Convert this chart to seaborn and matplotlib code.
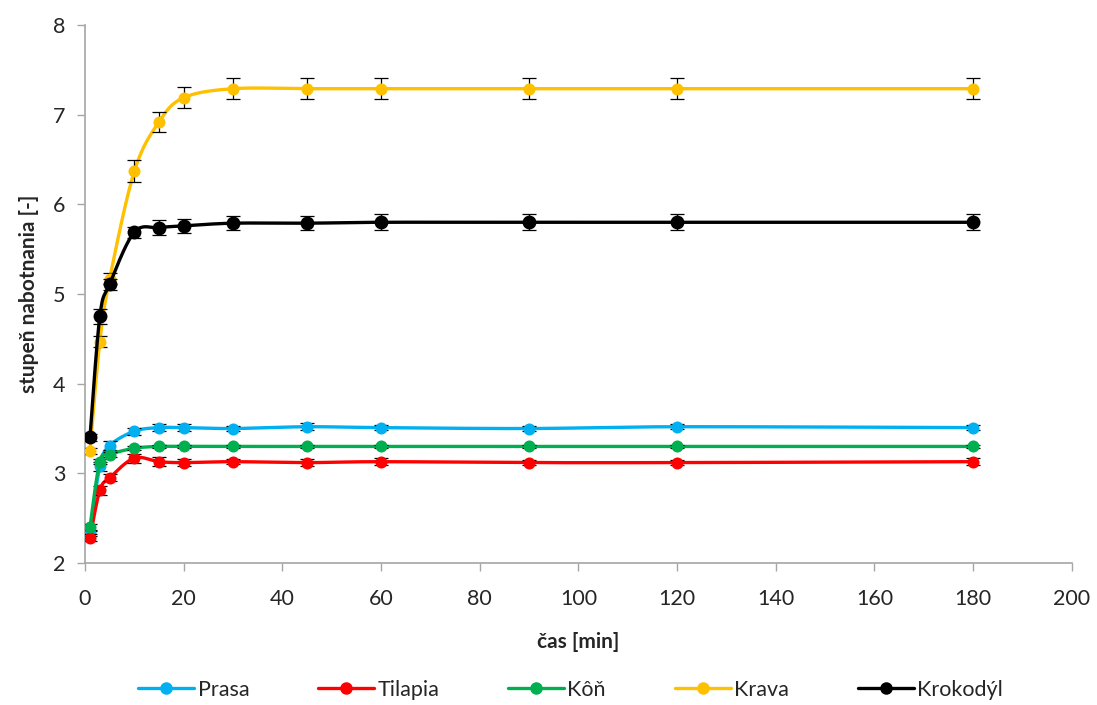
import numpy as np
import pandas as pd
import matplotlib
matplotlib.use("Agg")
import matplotlib.pyplot as plt
from matplotlib.lines import Line2D
import seaborn as sns

# ---- data ----
time_min = [1, 3, 5, 10, 15, 20, 30, 45, 60, 90, 120, 180]
prasa = [2.33, 3.08, 3.31, 3.47, 3.51, 3.51, 3.50, 3.52, 3.51, 3.50, 3.52, 3.51]
tilapia = [2.28, 2.81, 2.95, 3.17, 3.13, 3.12, 3.13, 3.12, 3.13, 3.12, 3.12, 3.13]
kon = [2.40, 3.13, 3.21, 3.28, 3.30, 3.30, 3.30, 3.30, 3.30, 3.30, 3.30, 3.30]
krava = [3.25, 4.47, 5.17, 6.37, 6.92, 7.19, 7.29, 7.29, 7.29, 7.29, 7.29, 7.29]
krokodyl = [3.40, 4.75, 5.11, 5.69, 5.74, 5.76, 5.79, 5.79, 5.80, 5.80, 5.80, 5.80]

prasa_err = [0.03, 0.05, 0.05, 0.04, 0.04, 0.04, 0.03, 0.04, 0.03, 0.03, 0.03, 0.03]
tilapia_err = [0.04, 0.05, 0.04, 0.05, 0.05, 0.04, 0.03, 0.04, 0.04, 0.03, 0.03, 0.04]
kon_err = [0.03, 0.03, 0.03, 0.02, 0.02, 0.02, 0.02, 0.02, 0.02, 0.02, 0.02, 0.02]
krava_err = [0.03, 0.06, 0.06, 0.12, 0.11, 0.12, 0.12, 0.12, 0.12, 0.12, 0.12, 0.12]
krokodyl_err = [0.04, 0.08, 0.06, 0.06, 0.08, 0.08, 0.08, 0.08, 0.09, 0.09, 0.09, 0.09]

series_names = ["Prasa", "Tilapia", "Kôň", "Krava", "Krokodýl"]
series_vals = [prasa, tilapia, kon, krava, krokodyl]
series_errs = [prasa_err, tilapia_err, kon_err, krava_err, krokodyl_err]
colors = ["#00B0F0", "#FF0000", "#00B050", "#FFC000", "#000000"]

x_ticks = [0, 20, 40, 60, 80, 100, 120, 140, 160, 180, 200]
y_ticks = [2, 3, 4, 5, 6, 7, 8]

# ---- style ----
sns.set_theme(style="white")
plt.rcParams["font.family"] = ["Lato", "DejaVu Sans"]

fig = plt.figure(figsize=(10.97, 7.05), dpi=100)
ax = fig.add_axes([0.0775, 0.2014, 0.8995, 0.7631])

W_PX, H_PX = 987.0, 538.0
XMIN, XMAX, YMIN, YMAX = 0, 200, 2, 8


def smooth_curve(xs, ys, n=30):
    """Excel-like smoothed line (Catmull-Rom Bezier) in screen space."""
    u = (np.asarray(xs, float) - XMIN) / (XMAX - XMIN) * W_PX
    v = (np.asarray(ys, float) - YMIN) / (YMAX - YMIN) * H_PX
    P = np.column_stack([u, v])
    m = len(P)
    out = []
    t = np.linspace(0, 1, n)[:, None]
    for i in range(m - 1):
        p0 = P[i - 1] if i > 0 else P[i]
        p1 = P[i]
        p2 = P[i + 1]
        p3 = P[i + 2] if i + 2 < m else P[i + 1]
        c1 = p1 + (p2 - p0) / 6.0
        c2 = p2 - (p3 - p1) / 6.0
        seg = ((1 - t) ** 3) * p1 + 3 * ((1 - t) ** 2) * t * c1 + 3 * (1 - t) * t ** 2 * c2 + t ** 3 * p2
        out.append(seg if i == 0 else seg[1:])
    pts = np.vstack(out)
    xx = pts[:, 0] / W_PX * (XMAX - XMIN) + XMIN
    yy = pts[:, 1] / H_PX * (YMAX - YMIN) + YMIN
    return xx, yy


handles = []
for i, (name, vals, errs, col) in enumerate(zip(series_names, series_vals, series_errs, colors)):
    z = 3 + i
    xs, ys = smooth_curve(time_min, vals)
    sns.lineplot(x=xs, y=ys, ax=ax, color=col, linewidth=2.4, sort=False, zorder=z)
    ax.errorbar(time_min, vals, yerr=errs, fmt="none", ecolor="black",
                elinewidth=0.9, capsize=5, capthick=0.9, zorder=z + 0.1)
    ms = 100 if name == "Krokodýl" else 75
    sns.scatterplot(x=time_min, y=vals, ax=ax, color=col, s=ms, edgecolor=col,
                    linewidth=0, zorder=z + 0.2)
    handles.append(Line2D([0], [0], color=col, linewidth=2.4, marker="o", markersize=8))

ax.set_xlim(XMIN, XMAX)
ax.set_ylim(YMIN, YMAX)
ax.set_xticks(x_ticks)
ax.set_yticks(y_ticks)
ax.tick_params(axis="both", labelsize=15.5, length=6, width=1, color="#A6A6A6",
               direction="out", bottom=True, left=True)
ax.tick_params(axis="x", pad=13)
ax.tick_params(axis="y", pad=8)
for s in ["top", "right"]:
    ax.spines[s].set_visible(False)
for s in ["left", "bottom"]:
    ax.spines[s].set_color("#A6A6A6")
    ax.spines[s].set_linewidth(1.2)

ax.set_xlabel("čas [min]", fontsize=15, fontweight="bold", labelpad=16)
ax.set_ylabel("stupeň nabotnania [-]", fontsize=15, fontweight="bold", labelpad=10)

fig.legend(handles, series_names, loc="lower center", bbox_to_anchor=(0.52, -0.02),
           ncol=5, frameon=False, fontsize=15.5, handlelength=2.6, columnspacing=3.2,
           handletextpad=0.15)

fig.savefig("out.png", dpi=100)
